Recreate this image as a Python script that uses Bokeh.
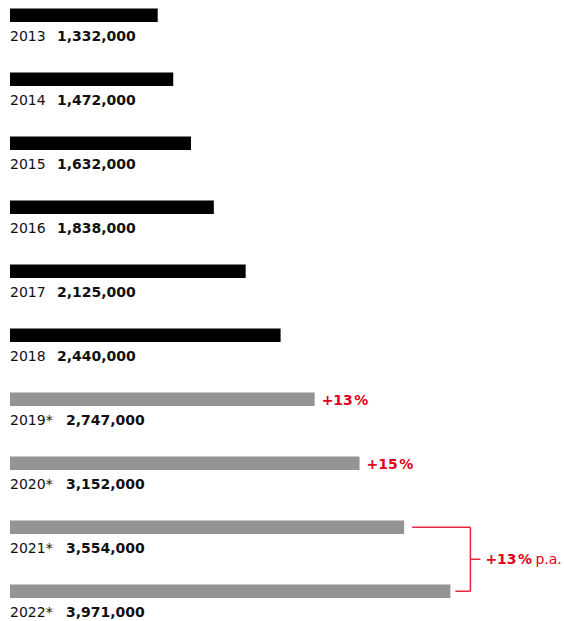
from bokeh.plotting import figure
from bokeh.models import ColumnDataSource, Range1d
from bokeh.core.properties import value
from bokeh.embed import file_html
from bokeh.resources import INLINE

# ---- data ----
years = ["2013", "2014", "2015", "2016", "2017", "2018", "2019*", "2020*", "2021*", "2022*"]
values = [1332000, 1472000, 1632000, 1838000, 2125000, 2440000, 2747000, 3152000, 3554000, 3971000]
forecast = [False, False, False, False, False, False, True, True, True, True]
growth_rows = [6, 7]
growth_labels = ["+13\u200a%", "+15\u200a%"]
pa_label_bold = "+13\u200a%"
pa_label_text = "p.a."

# ---- styling / geometry ----
W, H = 564, 621
K = 0.1109e-3          # px per unit on x
ROW = 64.0             # px per row
x0 = -9.5 / K
x1 = x0 + W / K
ytop = -(8 + 6.75) / ROW
ybot = ytop + H / ROW

BLACK = "#000000"
GREY = "#949494"
RED = "#e2001a"
FONT = "DejaVu Sans"

idx = list(range(len(years)))
colors = [GREY if f else BLACK for f in forecast]
val_text = [f"{v:,}" for v in values]
val_off = [47 if not f else 56 for f in forecast]

p = figure(width=W, height=H, output_backend="svg", toolbar_location=None,
           x_range=Range1d(x0, x1), y_range=Range1d(ybot, ytop),
           min_border=0, background_fill_color="white", border_fill_color="white")
p.outline_line_color = None
p.axis.visible = False
p.xgrid.visible = False
p.ygrid.visible = False

src = ColumnDataSource(dict(y=idx, v=values, c=colors, yr=years, vt=val_text, vo=val_off))
p.hbar(y="y", left=0, right="v", height=13.5 / ROW, fill_color="c", line_color=None, source=src)

p.text(x=0, y="y", text="yr", source=src, x_offset=0, y_offset=21,
       text_font=value(FONT), text_font_size="14px", text_color="#111111",
       text_baseline="middle", text_align="left")
p.text(x=0, y="y", text="vt", source=src, x_offset="vo", y_offset=21,
       text_font=value(FONT), text_font_size="14px", text_font_style="bold",
       text_color="#111111", text_baseline="middle", text_align="left")

gsrc = ColumnDataSource(dict(y=growth_rows, v=[values[i] for i in growth_rows], t=growth_labels))
p.text(x="v", y="y", text="t", source=gsrc, x_offset=7, y_offset=1,
       text_font=value(FONT), text_font_size="14px", text_font_style="bold",
       text_color=RED, text_baseline="middle", text_align="left")

# bracket for last two rows
r1, r2 = 8, 9
bx = values[r2] + 20 / K
p.segment(x0=[values[r1] + 8 / K, bx, values[r2] + 5 / K, bx],
          y0=[r1, r1, r2, (r1 + r2) / 2],
          x1=[bx, bx, bx, bx + 10 / K],
          y1=[r1, r2, r2, (r1 + r2) / 2],
          line_color="#e5283f", line_width=1.5)
p.text(x=[bx + 15 / K], y=[(r1 + r2) / 2], text=[pa_label_bold],
       text_font=value(FONT), text_font_size="14px", text_font_style="bold",
       text_color=RED, text_baseline="middle", text_align="left")
p.text(x=[bx + 15 / K], y=[(r1 + r2) / 2], text=[pa_label_text], x_offset=50,
       text_font=value(FONT), text_font_size="14px",
       text_color=RED, text_baseline="middle", text_align="left")

open("out.html", "w").write(file_html(p, INLINE))
